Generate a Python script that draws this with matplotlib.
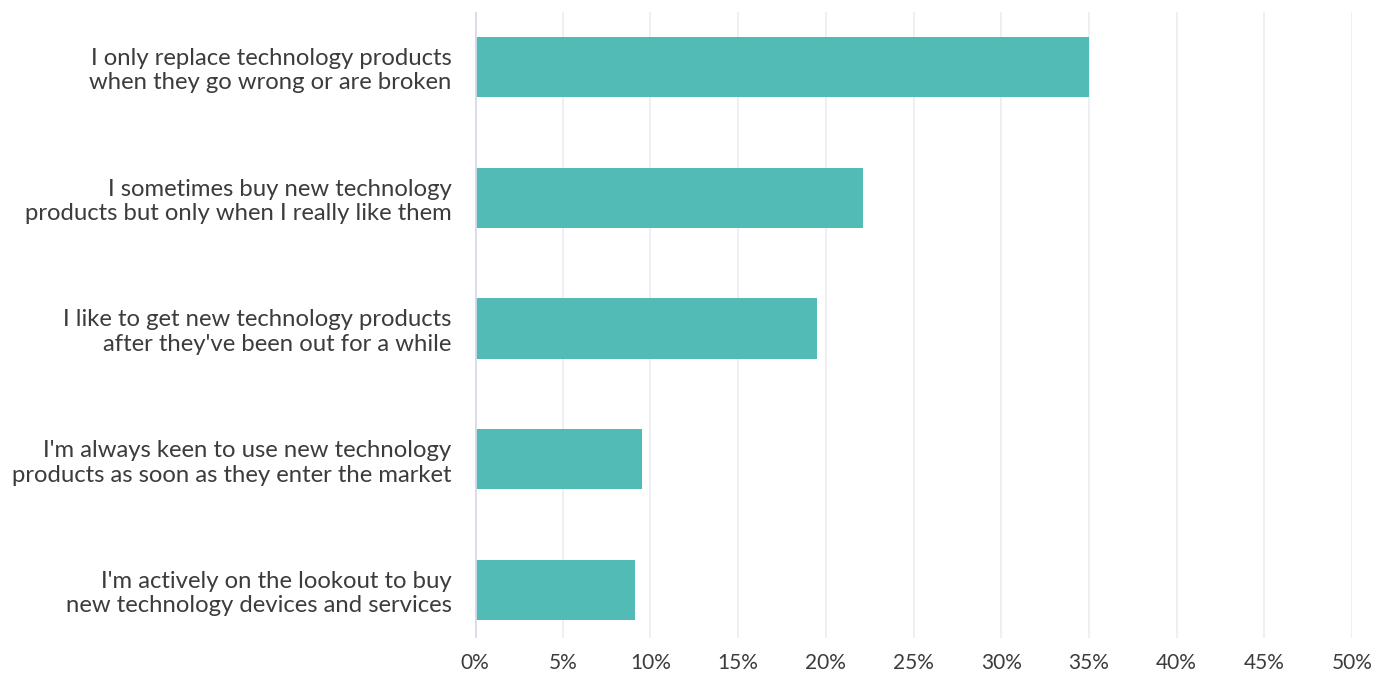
import matplotlib
matplotlib.use("Agg")
import matplotlib.pyplot as plt
from matplotlib.ticker import FuncFormatter

categories = [
    "I only replace technology products\nwhen they go wrong or are broken",
    "I sometimes buy new technology\nproducts but only when I really like them",
    "I like to get new technology products\nafter they've been out for a while",
    "I'm always keen to use new technology\nproducts as soon as they enter the market",
    "I'm actively on the lookout to buy\nnew technology devices and services",
]
values = [35.0, 22.1, 19.5, 9.5, 9.1]
xticks = [0, 5, 10, 15, 20, 25, 30, 35, 40, 45, 50]

plt.rcParams["font.family"] = ["Lato", "DejaVu Sans"]

fig = plt.figure(figsize=(13.95, 6.78), dpi=100)
W, H = 1395, 678
left, right, top, bottom = 475, 1352, 12, 638
ax = fig.add_axes([left / W, 1 - bottom / H, (right - left) / W, (bottom - top) / H])

ypos = list(range(len(values)))
ax.barh(ypos, values, height=0.46, color="#52bbb5", zorder=3)

ax.set_xlim(0, 50)
ax.set_ylim(len(values) - 1 + 0.367, -0.42)
ax.set_xticks(xticks)
ax.xaxis.set_major_formatter(FuncFormatter(lambda v, p: f"{v:.0f}%"))
ax.set_yticks(ypos)
ax.set_yticklabels(categories, ha="right", multialignment="right")

ax.grid(axis="x", color="#ececf1", linewidth=1.2, zorder=0)
ax.axvline(0, color="#d9d9ec", linewidth=2, zorder=4)
for s in ax.spines.values():
    s.set_visible(False)

ax.tick_params(axis="x", length=0, pad=11, labelsize=15, labelcolor="#3c3c3c")
ax.tick_params(axis="y", length=0, pad=17, labelsize=17.2, labelcolor="#3c3c3c")
for t in ax.get_yticklabels():
    t.set_linespacing(1.2)

fig.savefig("out.png", dpi=100, facecolor="white")
